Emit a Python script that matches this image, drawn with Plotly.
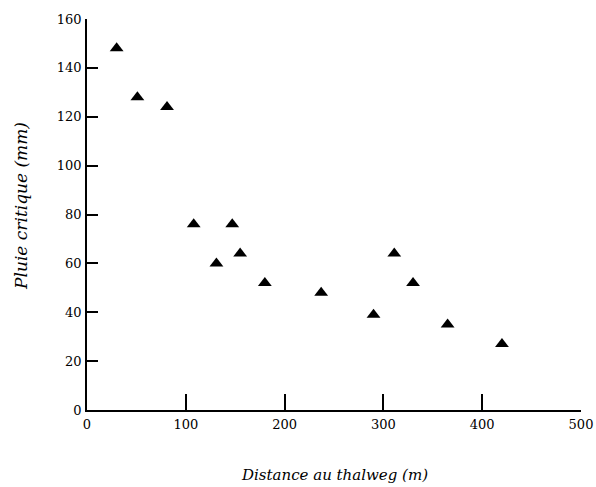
import plotly.graph_objects as go

distance = [30, 51, 81, 108, 147, 131, 155, 180, 237, 290, 311, 330, 365, 420]
pluie = [148, 128, 124, 76, 76, 60, 64, 52, 48, 39, 64, 52, 35, 27]

x_ticks = [0, 100, 200, 300, 400, 500]
y_ticks = [0, 20, 40, 60, 80, 100, 120, 140, 160]

fig = go.Figure()
fig.add_trace(go.Scatter(
    x=distance, y=pluie, mode="markers",
    marker=dict(symbol="triangle-up", size=12, color="black"),
    showlegend=False, cliponaxis=False,
))

font = dict(family="DejaVu Serif", size=13, color="black")
fig.update_layout(
    width=596, height=487,
    margin=dict(l=87, r=15, t=19, b=77),
    plot_bgcolor="white", paper_bgcolor="white",
    font=font,
    xaxis=dict(
        range=[0, 500], tickvals=x_ticks, ticks="inside", ticklen=16,
        tickwidth=1.5, tickcolor="black", showline=True, linecolor="black",
        linewidth=1.5, showgrid=False, zeroline=False, automargin=False,
        ticklabelstandoff=2,
    ),
    yaxis=dict(
        range=[0, 160], tickvals=y_ticks, ticks="inside", ticklen=11,
        tickwidth=1.5, tickcolor="black", showline=True, linecolor="black",
        linewidth=1.5, showgrid=False, zeroline=False, automargin=False,
        ticklabelstandoff=1,
    ),
    annotations=[
        dict(text="<i>Distance au thalweg (m)</i>", xref="paper", yref="paper",
             x=0.5, y=0, xanchor="center", yanchor="middle", yshift=-65,
             showarrow=False, font=dict(family="DejaVu Serif", size=15)),
        dict(text="<i>Pluie critique (mm)</i>", xref="paper", yref="paper",
             x=0, y=0.522, xanchor="center", yanchor="middle", xshift=-66,
             textangle=-90, showarrow=False,
             font=dict(family="DejaVu Serif", size=17)),
    ],
)
fig.write_html(
    "out.html",
    config={"displayModeBar": False},
    post_script="document.body.style.margin='0';document.body.style.overflow='hidden';",
)
